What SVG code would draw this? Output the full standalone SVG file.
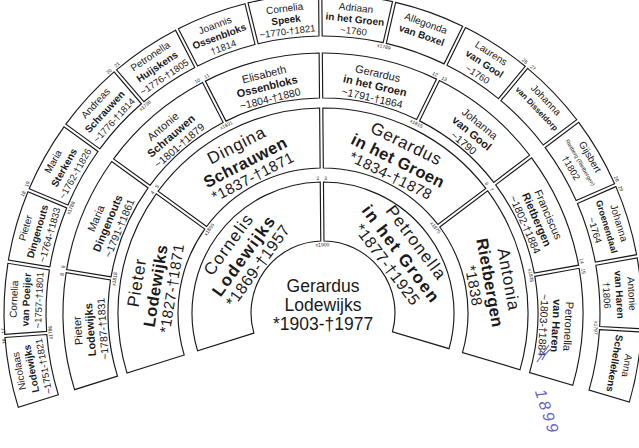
<svg xmlns="http://www.w3.org/2000/svg" width="639" height="448" viewBox="0 0 639 448">
<style>
text{font-family:"Liberation Sans",Arial,sans-serif;fill:#1a1a1a;text-anchor:middle}
.box{fill:#fff;stroke:#1a1a1a;stroke-width:1.15}
.c{font-size:17.5px}
.n1{font-size:17px;letter-spacing:1.2px}
.s1{font-size:17px;font-weight:bold;letter-spacing:1.5px}
.d1{font-size:16px;letter-spacing:0.5px}
.n2{font-size:17px;letter-spacing:0.8px}
.s2{font-size:16.5px;font-weight:bold;letter-spacing:0.4px}
.d2{font-size:15px;letter-spacing:0.4px}
.n3{font-size:11px}
.s3{font-size:11px;font-weight:bold}
.d3{font-size:10.5px}
.n4{font-size:10px}
.s4{font-size:10px;font-weight:bold}
.d4{font-size:9.5px}
.t{font-size:5px}
.hw{font-family:"Liberation Sans",sans-serif;font-style:italic;font-size:16px;letter-spacing:3px;fill:#6b63c8}
</style>
<defs>
<path id="r1" class="box" d="M-56.91 -44.10 L-104.35 -79.20 A131 131 0 0 1 104.35 -79.20 L56.91 -44.10 A72 72 0 0 0 -56.91 -44.10 Z"/>
<path id="r2" class="box" d="M-63.83 -130.19 L-90.84 -183.78 A205 205 0 0 1 90.84 -183.78 L63.83 -130.19 A145 145 0 0 0 -63.83 -130.19 Z"/>
<path id="r3" class="box" d="M-48.18 -209.53 L-58.59 -253.31 A260 260 0 0 1 58.59 -253.31 L48.18 -209.53 A215 215 0 0 0 -48.18 -209.53 Z"/>
<path id="r4" class="box" d="M-30.67 -275.30 L-35.56 -317.01 A319 319 0 0 1 35.56 -317.01 L30.67 -275.30 A277 277 0 0 0 -30.67 -275.30 Z"/>
</defs>
<rect width="639" height="448" fill="#fff"/>
<g id="nodes">
<g id="p1" transform="translate(323,313)"><text class="c" y="-21">Gerardus</text><text class="c" y="-2">Lodewijks</text><text class="c" y="17">*1903-†1977</text></g>

<g id="p2" transform="translate(323,313) rotate(-54)"><use href="#r1"/><text class="n1" y="-111">Cornelis</text><text class="s1" y="-92">Lodewijks</text><text class="d1" y="-75">*1869-†1957</text></g>
<g id="p3" transform="translate(323,313) rotate(53)"><use href="#r1"/><text class="n1" y="-111">Petronella</text><text class="s1" y="-92">in het Groen</text><text class="d1" y="-75">*1877-†1925</text></g>

<g id="p4" transform="translate(323,313) rotate(-80.75)"><use href="#r2"/><text class="n2" y="-183">Pieter</text><text class="s2" y="-164">Lodewijks</text><text class="d2" y="-148">*1827-†1871</text></g>
<g id="p5" transform="translate(323,313) rotate(-27.25)"><use href="#r2"/><text class="n2" y="-183">Dingina</text><text class="s2" y="-164">Schrauwen</text><text class="d2" y="-148">*1837-†1871</text></g>
<g id="p6" transform="translate(323,313) rotate(26.25)"><use href="#r2"/><text class="n2" y="-183">Gerardus</text><text class="s2" y="-164">in het Groen</text><text class="d2" y="-148">*1834-†1878</text></g>
<g id="p7" transform="translate(323,313) rotate(79.75)"><use href="#r2"/><text class="n2" y="-183">Antonia</text><text class="s2" y="-164">Rietbergen</text><text class="d2" y="-148">*1838</text></g>

<g id="p8" transform="translate(323,313) rotate(-94.125)"><use href="#r3"/><text class="n3" y="-242">Pieter</text><text class="s3" y="-229.5">Lodewijks</text><text class="d3" y="-217">~1787-†1831</text></g>
<g id="p9" transform="translate(323,313) rotate(-67.375)"><use href="#r3"/><text class="n3" y="-242">Maria</text><text class="s3" y="-229.5">Dingenouts</text><text class="d3" y="-217">~1791-†1861</text></g>
<g id="p10" transform="translate(323,313) rotate(-40.625)"><use href="#r3"/><text class="n3" y="-242">Antonie</text><text class="s3" y="-229.5">Schrauwen</text><text class="d3" y="-217">~1801-†1879</text></g>
<g id="p11" transform="translate(323,313) rotate(-13.875)"><use href="#r3"/><text class="n3" y="-242">Elisabeth</text><text class="s3" y="-229.5">Ossenbloks</text><text class="d3" y="-217">~1804-†1880</text></g>
<g id="p12" transform="translate(323,313) rotate(12.875)"><use href="#r3"/><text class="n3" y="-242">Gerardus</text><text class="s3" y="-229.5">in het Groen</text><text class="d3" y="-217">~1791-†1864</text></g>
<g id="p13" transform="translate(323,313) rotate(39.625)"><use href="#r3"/><text class="n3" y="-242">Johanna</text><text class="s3" y="-229.5">van Gool</text><text class="d3" y="-217">~1790</text></g>
<g id="p14" transform="translate(323,313) rotate(66.375)"><use href="#r3"/><text class="n3" y="-242">Franciscus</text><text class="s3" y="-229.5">Rietbergen</text><text class="d3" y="-217">~1802-†1884</text></g>
<g id="p15" transform="translate(323,313) rotate(93.125)"><use href="#r3"/><text class="n3" y="-242">Petronella</text><text class="s3" y="-229.5">van Haren</text><text class="d3" y="-217">~1803-†1884</text></g>

<g id="p16" transform="translate(323,313) rotate(-100.8125)"><use href="#r4"/><text class="n4" y="-306">Nicolaas</text><text class="s4" y="-293.5">Lodewijks</text><text class="d4" y="-281">~1751-†1821</text></g>
<g id="p17" transform="translate(323,313) rotate(-87.4375)"><use href="#r4"/><text class="n4" y="-306">Cornelia</text><text class="s4" y="-293.5">van Poeijer</text><text class="d4" y="-281">~1757-†1801</text></g>
<g id="p18" transform="translate(323,313) rotate(-74.0625)"><use href="#r4"/><text class="n4" y="-306">Pieter</text><text class="s4" y="-293.5">Dingenouts</text><text class="d4" y="-281">~1764-†1833</text></g>
<g id="p19" transform="translate(323,313) rotate(-60.6875)"><use href="#r4"/><text class="n4" y="-306">Maria</text><text class="s4" y="-293.5">Sterkens</text><text class="d4" y="-281">~1762-†1826</text></g>
<g id="p20" transform="translate(323,313) rotate(-47.3125)"><use href="#r4"/><text class="n4" y="-306">Andreas</text><text class="s4" y="-293.5">Schrauwen</text><text class="d4" y="-281">~1776-†1814</text></g>
<g id="p21" transform="translate(323,313) rotate(-33.9375)"><use href="#r4"/><text class="n4" y="-306">Petronella</text><text class="s4" y="-293.5">Huijskens</text><text class="d4" y="-281">~1776-†1805</text></g>
<g id="p22" transform="translate(323,313) rotate(-20.5625)"><use href="#r4"/><text class="n4" y="-304">Joannis</text><text class="s4" y="-292">Ossenbloks</text><text class="d4" y="-280.5">†1814</text></g>
<g id="p23" transform="translate(323,313) rotate(-7.1875)"><use href="#r4"/><text class="n4" y="-303.5">Cornelia</text><text class="s4" y="-292">Speek</text><text class="d4" y="-280.5">~1770-†1821</text></g>
<g id="p24" transform="translate(323,313) rotate(6.1875)"><use href="#r4"/><text class="n4" y="-303.5">Adriaan</text><text class="s4" y="-292">in het Groen</text><text class="d4" y="-280.5">~1760</text></g>
<g id="p25" transform="translate(323,313) rotate(19.5625)"><use href="#r4"/><text class="n4" y="-304">Allegonda</text><text class="s4" y="-291.5">van Boxel</text></g>
<g id="p26" transform="translate(323,313) rotate(32.9375)"><use href="#r4"/><text class="n4" y="-306">Laurens</text><text class="s4" y="-293.5">van Gool</text><text class="d4" y="-281">~1760</text></g>
<g id="p27" transform="translate(323,313) rotate(46.3125)"><use href="#r4"/><text class="n4" y="-305">Johanna</text><text class="s4" y="-293" style="font-size:8px">van Disseldorp</text></g>
<g id="p28" transform="translate(323,313) rotate(59.6875)"><use href="#r4"/><text class="n4" y="-306">Gijsbert</text><text class="t" y="-296" style="font-size:5.5px">Rietberg (Rietbergen)</text><text class="d4" y="-284">†1802</text></g>
<g id="p29" transform="translate(323,313) rotate(73.0625)"><use href="#r4"/><text class="n4" y="-306">Johanna</text><text class="s4" y="-293.5" style="font-size:9px">Groenendaal</text><text class="d4" y="-281">~1764</text></g>
<g id="p30" transform="translate(323,313) rotate(86.4375)"><use href="#r4"/><text class="n4" y="-306">Antonie</text><text class="s4" y="-293.5">van Haren</text><text class="d4" y="-281">†1806</text></g>
<g id="p31" transform="translate(323,313) rotate(99.8125)"><use href="#r4"/><text class="n4" y="-305">Anna</text><text class="s4" y="-292.5">Schellekens</text></g>
</g>

<g id="labels">
<g transform="translate(323,313) rotate(-0.5)"><text class="t" x="-2.5" y="-133" style="text-anchor:end">2</text><text class="t" x="2.5" y="-133" style="text-anchor:start">3</text><text class="t" y="-66.5">x1900</text></g>
<g transform="translate(323,313) rotate(-53.75)"><text class="t" x="-2.5" y="-207" style="text-anchor:end">4</text><text class="t" x="2.5" y="-207" style="text-anchor:start">5</text><text class="t" y="-139.5">x1866</text></g>
<g transform="translate(323,313) rotate(52.75)"><text class="t" x="-2.5" y="-207" style="text-anchor:end">6</text><text class="t" x="2.5" y="-207" style="text-anchor:start">7</text><text class="t" y="-139.5">x1875</text></g>
<g transform="translate(323,313) rotate(-80.75)"><text class="t" x="-2.5" y="-262" style="text-anchor:end">8</text><text class="t" x="2.5" y="-262" style="text-anchor:start">9</text><text class="t" y="-209.5">x1818</text></g>
<g transform="translate(323,313) rotate(-27.25)"><text class="t" x="-2.5" y="-262" style="text-anchor:end">10</text><text class="t" x="2.5" y="-262" style="text-anchor:start">11</text><text class="t" y="-209.5">x1831</text></g>
<g transform="translate(323,313) rotate(26.25)"><text class="t" x="-2.5" y="-262" style="text-anchor:end">12</text><text class="t" x="2.5" y="-262" style="text-anchor:start">13</text><text class="t" y="-209.5">x1815</text></g>
<g transform="translate(323,313) rotate(79.75)"><text class="t" x="-2.5" y="-262" style="text-anchor:end">14</text><text class="t" x="2.5" y="-262" style="text-anchor:start">15</text><text class="t" y="-209.5">x1835</text></g>
<g transform="translate(323,313) rotate(-94.125)"><text class="t" x="-2.5" y="-318.5" style="text-anchor:end">16</text><text class="t" x="2.5" y="-318.5" style="text-anchor:start">17</text><text class="t" y="-271.5">x1786</text></g>
<g transform="translate(323,313) rotate(-67.375)"><text class="t" x="-2.5" y="-321" style="text-anchor:end">18</text><text class="t" x="2.5" y="-321" style="text-anchor:start">19</text><text class="t" y="-271.5">x1788</text></g>
<g transform="translate(323,313) rotate(-40.625)"><text class="t" x="-2.5" y="-321" style="text-anchor:end">20</text><text class="t" x="2.5" y="-321" style="text-anchor:start">21</text><text class="t" y="-271.5">x1796</text></g>
<g transform="translate(323,313) rotate(12.875)"><text class="t" y="-271.5">x1789</text></g>
<g transform="translate(323,313) rotate(39.625)"><text class="t" x="-2.5" y="-321" style="text-anchor:end">26</text><text class="t" x="2.5" y="-321" style="text-anchor:start">27</text></g>
<g transform="translate(323,313) rotate(66.375)"><text class="t" x="-2.5" y="-321" style="text-anchor:end">28</text><text class="t" x="2.5" y="-321" style="text-anchor:start">29</text></g>
<g transform="translate(323,313) rotate(93.125)"><text class="t" y="-271.5">x1797</text></g>
</g>

<g id="handwriting">
<path d="M537 362 L549 345 M542 360 Q546 352 551 349" fill="none" stroke="#6b63c8" stroke-width="1.2"/>
<text class="hw" transform="translate(542,414) rotate(72)">1899</text>
</g>
</svg>
